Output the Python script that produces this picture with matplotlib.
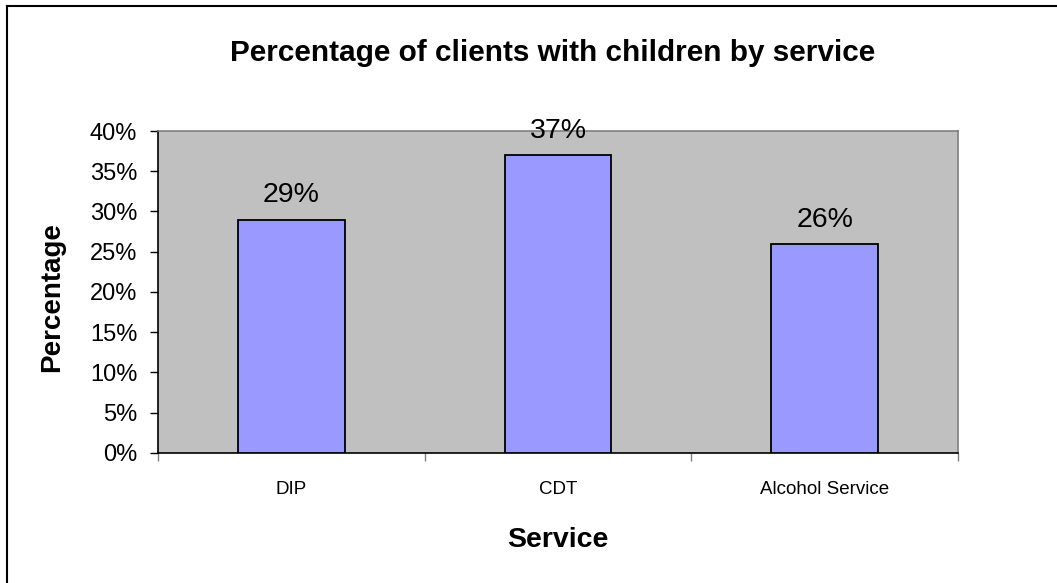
import matplotlib
matplotlib.use("Agg")
import matplotlib.pyplot as plt
from matplotlib.lines import Line2D
from matplotlib.ticker import FuncFormatter

plt.rcParams['font.family'] = ['Liberation Sans', 'DejaVu Sans']

services = ["DIP", "CDT", "Alcohol Service"]
percent = [29, 37, 26]
y_ticks = [0, 5, 10, 15, 20, 25, 30, 35, 40]

fig = plt.figure(figsize=(10.57, 5.83), dpi=100)
ax = fig.add_axes([0.1495, 0.223, 0.7568, 0.5523])

pos = list(range(len(services)))
ax.bar(pos, percent, width=0.40, color="#9999FF", edgecolor="black", linewidth=1.3, zorder=3)

for x, v in zip(pos, percent):
    ax.annotate(f"{v}%", (x, v), xytext=(0, 8), textcoords="offset points",
                ha="center", va="bottom", fontsize=20.5)

ax.set_facecolor("#C0C0C0")
ax.set_xlim(-0.5, len(services) - 0.5)
ax.set_ylim(0, 40)
ax.set_yticks(y_ticks)
ax.yaxis.set_major_formatter(FuncFormatter(lambda v, _: f"{v:.0f}%"))
ax.tick_params(axis="y", direction="out", length=6, width=1, labelsize=17, pad=9)

# category separators as major ticks, names on minor ticks
ax.set_xticks([p - 0.5 for p in pos] + [pos[-1] + 0.5])
ax.set_xticklabels([])
ax.set_xticks(pos, minor=True)
ax.set_xticklabels(services, minor=True, fontsize=13.5)
ax.tick_params(axis="x", which="major", direction="out", length=6, width=1, color="#808080")
ax.tick_params(axis="x", which="minor", length=0, pad=20)

for side in ("top", "right"):
    ax.spines[side].set_color("#808080")
    ax.spines[side].set_linewidth(1.2)
for side in ("left", "bottom"):
    ax.spines[side].set_color("black")
    ax.spines[side].set_linewidth(1.2)

fig.text(0.0492, 0.4906, "Percentage", rotation=90, ha="center", va="center",
         fontsize=20, fontweight="bold")
fig.text(0.528, 0.0738, "Service", ha="center", va="center",
         fontsize=20.5, fontweight="bold")
fig.text(0.523, 0.909, "Percentage of clients with children by service",
         ha="center", va="center", fontsize=21.4, fontweight="bold")

# outer frame along top and left edges
fig.add_artist(Line2D([7 / 1057, 1.0], [1 - 6 / 583, 1 - 6 / 583], color="black", lw=1.5))
fig.add_artist(Line2D([7 / 1057, 7 / 1057], [0.0, 1 - 6 / 583], color="black", lw=1.5))

fig.savefig("out.png", dpi=100)
